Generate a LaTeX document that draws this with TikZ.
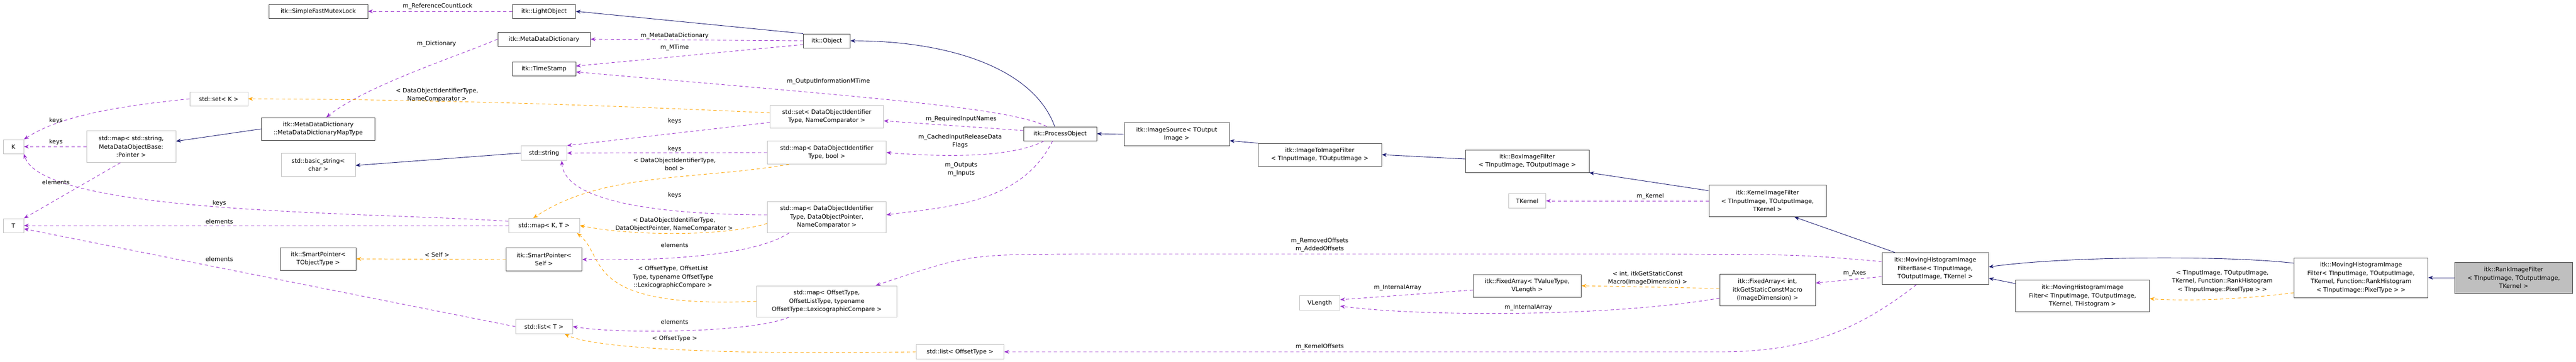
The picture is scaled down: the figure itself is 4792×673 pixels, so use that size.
\documentclass[tikz,border=0pt]{standalone}
\usepackage{fontspec}
\setmainfont{DejaVu Sans}
\usetikzlibrary{arrows.meta}
\definecolor{inhc}{HTML}{191970}
\definecolor{usec}{HTML}{9A32CD}
\definecolor{tplc}{HTML}{FFA500}
\definecolor{grayb}{HTML}{BFBFBF}
\definecolor{blackb}{HTML}{404040}
\begin{document}
\begin{tikzpicture}[x=1pt,y=-1pt,
  every node/.style={font=\fontsize{11}{15.5}\selectfont, inner sep=0pt},
  cls/.style={draw=blackb, line width=1pt, fill=white, align=center},
  ext/.style={draw=grayb, line width=1pt, fill=white, align=center},
  lab/.style={align=center, fill=none},
  inh/.style={draw=inhc, line width=0.9pt, -{Stealth[length=9pt,width=7pt]}},
  use/.style={draw=usec, line width=0.9pt, dash pattern=on 6pt off 5pt, -{Stealth[length=9pt,width=7pt]}},
  tpl/.style={draw=tplc, line width=0.9pt, dash pattern=on 6pt off 5pt, -{Stealth[length=9pt,width=7pt]}}]
\useasboundingbox (0,0) rectangle (4792,673);
% nodes
\node[cls, minimum width=184, minimum height=26] (SFM) at (592,21) {itk::SimpleFastMutexLock};
\node[ext, minimum width=108, minimum height=26] (SK) at (407,184) {std::set\textless{} K \textgreater{}};
\node[cls, minimum width=211, minimum height=42] (MT) at (592,240) {itk::MetaDataDictionary\\::MetaDataDictionaryMapType};
\node[ext, minimum width=38, minimum height=26] (K) at (25,273) {K};
\node[ext, minimum width=166, minimum height=59] (MS) at (244,273) {std::map\textless{} std::string,\\MetaDataObjectBase:\\:Pointer \textgreater{}};
\node[ext, minimum width=138, minimum height=43] (BS) at (592,307) {std::basic\_string\textless{}\\char \textgreater{}};
\node[ext, minimum width=38, minimum height=26] (T) at (25,420) {T};
\node[cls, minimum width=141, minimum height=42] (SPT) at (592,482) {itk::SmartPointer\textless{}\\TObjectType \textgreater{}};
\node[cls, minimum width=117, minimum height=26] (LO) at (1012,21) {itk::LightObject};
\node[cls, minimum width=172, minimum height=26] (MDD) at (1012,73) {itk::MetaDataDictionary};
\node[cls, minimum width=118, minimum height=26] (TS) at (1012,128) {itk::TimeStamp};
\node[cls, minimum width=87, minimum height=26] (OB) at (1538,76) {itk::Object};
\node[ext, minimum width=211, minimum height=42] (SD) at (1538,217) {std::set\textless{} DataObjectIdentifier\\Type, NameComparator \textgreater{}};
\node[ext, minimum width=85, minimum height=27] (ST) at (1012,285) {std::string};
\node[ext, minimum width=221, minimum height=43] (MB) at (1538,284) {std::map\textless{} DataObjectIdentifier\\Type, bool \textgreater{}};
\node[ext, minimum width=132, minimum height=27] (MKT) at (1012,420) {std::map\textless{} K, T \textgreater{}};
\node[ext, minimum width=221, minimum height=58] (MD) at (1538,404) {std::map\textless{} DataObjectIdentifier\\Type, DataObjectPointer,\\NameComparator \textgreater{}};
\node[cls, minimum width=141, minimum height=43] (SPS) at (1012,483) {itk::SmartPointer\textless{}\\Self \textgreater{}};
\node[ext, minimum width=261, minimum height=58] (MO) at (1538,561) {std::map\textless{} OffsetType,\\OffsetListType, typename\\OffsetType::LexicographicCompare \textgreater{}};
\node[ext, minimum width=106, minimum height=27] (LT) at (1012,608) {std::list\textless{} T \textgreater{}};
\node[cls, minimum width=136, minimum height=26] (PO) at (1972,249) {itk::ProcessObject};
\node[cls, minimum width=196, minimum height=43] (IS) at (2189,250) {itk::ImageSource\textless{} TOutput\\Image \textgreater{}};
\node[cls, minimum width=230, minimum height=42] (ITI) at (2455,288) {itk::ImageToImageFilter\\\textless{} TInputImage, TOutputImage \textgreater{}};
\node[ext, minimum width=75, minimum height=27] (VL) at (2455,564) {VLength};
\node[ext, minimum width=163, minimum height=27] (LOT) at (1786,655) {std::list\textless{} OffsetType \textgreater{}};
\node[cls, minimum width=230, minimum height=42] (BOX) at (2841,300) {itk::BoxImageFilter\\\textless{} TInputImage, TOutputImage \textgreater{}};
\node[ext, minimum width=69, minimum height=27] (TK) at (2841,374) {TKernel};
\node[cls, minimum width=218, minimum height=59] (KIF) at (3288,374) {itk::KernelImageFilter\\\textless{} TInputImage, TOutputImage,\\TKernel \textgreater{}};
\node[cls, minimum width=201, minimum height=42] (FAV) at (2841,532) {itk::FixedArray\textless{} TValueType,\\VLength \textgreater{}};
\node[cls, minimum width=178, minimum height=59] (FAI) at (3288,540) {itk::FixedArray\textless{} int,\\itkGetStaticConstMacro\\(ImageDimension) \textgreater{}};
\node[cls, minimum width=198, minimum height=59] (MHB) at (3600,500) {itk::MovingHistogramImage\\FilterBase\textless{} TInputImage,\\TOutputImage, TKernel \textgreater{}};
\node[cls, minimum width=249, minimum height=59] (MHT) at (3874,551) {itk::MovingHistogramImage\\Filter\textless{} TInputImage, TOutputImage,\\TKernel, THistogram \textgreater{}};
\node[cls, minimum width=249, minimum height=74] (MHR) at (4392,517) {itk::MovingHistogramImage\\Filter\textless{} TInputImage, TOutputImage,\\TKernel, Function::RankHistogram\\\textless{} TInputImage::PixelType \textgreater{} \textgreater{}};
\node[cls, fill=grayb, minimum width=219, minimum height=58] (RK) at (4676,517) {itk::RankImageFilter\\\textless{} TInputImage, TOutputImage,\\TKernel \textgreater{}};
% inheritance
\draw[inh] (OB.north west) -- (LO.east);
\draw[inh] ([xshift=-10pt]PO.north) .. controls +(-40,-110) and +(180,0) .. (OB.east);
\draw[inh] (IS.west) -- (PO.east);
\draw[inh] (ITI.north west) -- ([yshift=10pt]IS.south east);
\draw[inh] ([yshift=4pt]BOX.west) -- (ITI.east);
\draw[inh] ([yshift=-11pt]KIF.north west) -- (BOX.south east);
\draw[inh] ([xshift=-75pt]MHB.north) -- ([xshift=50pt]KIF.south);
\draw[inh] ([yshift=27pt]MHR.west) .. controls (4150,476) and (3850,476) .. ([yshift=3pt]MHB.east);
\draw[inh] ([yshift=23pt]MHT.west) -- ([yshift=-18pt]MHB.east);
\draw[inh] (RK.west) -- (MHR.east);
\draw[inh] (MT.west) -- ([yshift=10pt]MS.east);
\draw[inh] (ST.west) -- ([yshift=-1pt]BS.east);
% usage
\draw[use] (LO.west) -- (SFM.east);
\draw[use] (OB.west) -- (MDD.east);
\draw[use] ([yshift=-7pt]OB.west) -- ([yshift=5pt]TS.east);
\draw[use] ([xshift=-25pt]PO.north) .. controls (1880,200) and (1600,180) .. ([yshift=-6pt]TS.east);
\draw[use] (MDD.west) .. controls (850,105) and (680,160) .. ([xshift=15pt]MT.north);
\draw[use] ([yshift=6pt]PO.west) -- ([yshift=-8pt]SD.east);
\draw[use] ([xshift=-30pt]PO.south) .. controls (1880,295) and (1750,292) .. (MB.east);
\draw[use] ([xshift=-14pt]PO.south) .. controls (1900,380) and (1760,385) .. ([yshift=4pt]MD.east);
\draw[use] (SK.west) .. controls (250,195) and (120,210) .. (K.north east);
\draw[use] (MS.west) -- (K.east);
\draw[use] ([xshift=-20pt]MS.south) -- (T.north east);
\draw[use] ([yshift=8pt]MKT.west) .. controls (700,395) and (80,400) .. (K.south east);
\draw[use] (MKT.west) -- (T.east);
\draw[use] (LT.west) -- ([yshift=-6pt]T.east);
\draw[use] ([yshift=-11pt]SD.west) -- (ST.north east);
\draw[use] (MB.west) -- (ST.east);
\draw[use] ([yshift=4pt]MD.west) .. controls (1250,400) and (1050,380) .. ([xshift=-10pt]ST.south east);
\draw[use] ([xshift=-70pt]MD.south) .. controls (1400,480) and (1200,486) .. (SPS.east);
\draw[use] ([xshift=-70pt]MO.south) .. controls (1400,620) and (1150,622) .. (LT.east);
\draw[use] ([yshift=13pt]MHB.west) .. controls (3350,474) .. (3100,473) -- (2000,473) .. controls (1800,474) .. ([xshift=-40pt]MO.north east);
\draw[use] ([xshift=-35pt]MHB.south) .. controls (3450,620) and (3350,655) .. (3200,655) -- (LOT.east);
\draw[use] ([yshift=-15pt]MHB.west) -- ([yshift=13pt]FAI.east);
\draw[use] (KIF.west) -- (TK.east);
\draw[use] ([yshift=-8pt]FAV.west) -- ([yshift=6pt]VL.east);
\draw[use] ([yshift=-15pt]FAI.west) .. controls (3000,590) and (2650,590) .. ([yshift=-6pt]VL.east);
% templates
\draw[tpl] ([yshift=7pt]SD.west) .. controls (1100,195) and (800,185) .. (SK.east);
\draw[tpl] ([xshift=-70pt]MB.south) .. controls (1300,335) and (1120,320) .. ([xshift=-20pt]MKT.north);
\draw[tpl] ([yshift=-12pt]MD.west) .. controls (1350,440) and (1180,440) .. (MKT.east);
\draw[tpl] (MO.west) .. controls (1080,575) and (1130,480) .. ([xshift=-5pt]MKT.south east);
\draw[tpl] (LOT.west) .. controls (1450,660) and (1120,655) .. ([xshift=-15pt]LT.south east);
\draw[tpl] (SPS.west) -- (SPT.east);
\draw[tpl] ([yshift=3pt]FAI.west) -- (FAV.east);
\draw[tpl] ([yshift=-28pt]MHR.west) .. controls (4150,560) and (4050,560) .. ([yshift=-5pt]MHT.east);
% labels
\node[lab] (l1) at (814,12) {m\_ReferenceCountLock};
\node[lab] (l2) at (812,82) {m\_Dictionary};
\node[lab] (l3) at (813,177) {\textless{} DataObjectIdentifierType,\\NameComparator \textgreater{}};
\node[lab] (l4) at (813,474) {\textless{} Self \textgreater{}};
\node[lab] (l5) at (104,224) {keys};
\node[lab] (l6) at (104,264) {keys};
\node[lab] (l7) at (104,339) {elements};
\node[lab] (l8) at (408,378) {keys};
\node[lab] (l9) at (408,412) {elements};
\node[lab] (l10) at (408,482) {elements};
\node[lab] (l11) at (1255,67) {m\_MetaDataDictionary};
\node[lab] (l12) at (1255,89) {m\_MTime};
\node[lab] (l13) at (1541,152) {m\_OutputInformationMTime};
\node[lab] (l14) at (1255,225) {keys};
\node[lab] (l15) at (1255,277) {keys};
\node[lab] (l16) at (1255,306) {\textless{} DataObjectIdentifierType,\\bool \textgreater{}};
\node[lab] (l17) at (1255,363) {keys};
\node[lab] (l18) at (1254,418) {\textless{} DataObjectIdentifierType,\\DataObjectPointer, NameComparator \textgreater{}};
\node[lab] (l19) at (1255,456) {elements};
\node[lab] (l20) at (1252,516) {\textless{} OffsetType, OffsetList\\Type, typename OffsetType\\::LexicographicCompare \textgreater{}};
\node[lab] (l21) at (1255,599) {elements};
\node[lab] (l22) at (1255,630) {\textless{} OffsetType \textgreater{}};
\node[lab] (l23) at (1788,222) {m\_RequiredInputNames};
\node[lab] (l24) at (1786,263) {m\_CachedInputReleaseData\\Flags};
\node[lab] (l25) at (1788,315) {m\_Outputs\\m\_Inputs};
\node[lab] (l26) at (2455,456) {m\_RemovedOffsets\\m\_AddedOffsets};
\node[lab] (l27) at (2455,646) {m\_KernelOffsets};
\node[lab] (l28) at (3070,366) {m\_Kernel};
\node[lab] (l29) at (3065,518) {\textless{} int, itkGetStaticConst\\Macro(ImageDimension) \textgreater{}};
\node[lab] (l30) at (2600,536) {m\_InternalArray};
\node[lab] (l31) at (2843,573) {m\_InternalArray};
\node[lab] (l32) at (3450,509) {m\_Axes};
\node[lab] (l33) at (4134,524) {\textless{} TInputImage, TOutputImage,\\TKernel, Function::RankHistogram\\\textless{} TInputImage::PixelType \textgreater{} \textgreater{}};
\end{tikzpicture}
\end{document}
